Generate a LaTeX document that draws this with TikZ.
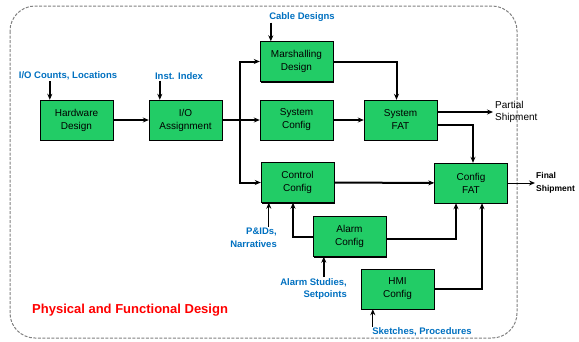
\documentclass[tikz,border=0pt]{standalone}
\usepackage{fontspec}
\setmainfont{Liberation Sans}
\usepackage{xcolor}
\usetikzlibrary{positioning,calc,arrows.meta,shadows}
\definecolor{boxgreen}{RGB}{34,204,102}
\definecolor{labelblue}{RGB}{0,112,192}

\begin{document}
\begin{tikzpicture}[x=1pt,y=-1pt]
\useasboundingbox (0,0) rectangle (579,341);
\draw[gray,line width=1pt,dash pattern=on 3pt off 1.5pt,rounded corners=25pt] (10,6) rectangle (517,338);

\begin{scope}[every node/.style={rectangle,draw=black,fill=boxgreen,
              minimum width=73pt,minimum height=40pt,inner sep=0pt,align=center,
              font=\fontsize{10}{13}\selectfont,
              drop shadow={shadow xshift=0.8pt,shadow yshift=-1.4pt,fill=black,opacity=1}}]
    \node (HW) at (76.5,120) {Hardware\\Design};
    \node (IO) at (185.5,120) {I/O\\Assignment};
    \node (MD) at (296.5,61.5) {Marshalling\\Design};
    \node (SC) at (296.5,120) {System\\Config};
    \node (SF) at (400.5,120) {System\\FAT};
    \node (CC) at (297.5,182.5) {Control\\Config};
    \node (CF) at (471,183) {Config\\FAT};
    \node (AC) at (349.5,236.5) {Alarm\\Config};
    \node (HMI) at (397.5,289) {HMI\\Config};
\end{scope}

\begin{scope}[every node/.style={font=\bfseries\fontsize{9.5}{12.5}\selectfont,
              text=labelblue,inner sep=1pt}]
    \node (IOC) at (68,76) {I/O Counts, Locations};
    \node (II) at (179,76) {Inst. Index};
    \node (CD) at (302,17) {Cable Designs};
    \node[anchor=east,align=right] (PID) at (278,238) {P\&IDs,\\Narratives};
    \node[anchor=east,align=right] (AS) at (348,289) {Alarm Studies,\\Setpoints};
    \node (SP) at (422,332) {Sketches, Procedures};
\end{scope}

\node[anchor=west,align=left,inner sep=2pt,font=\fontsize{10}{12}\selectfont] (PS) at (493,112) {Partial\\Shipment};
\node[anchor=west,align=left,inner sep=1pt,font=\bfseries\fontsize{8.5}{13}\selectfont] (FS) at (535,183) {Final\\Shipment};
\node[anchor=west,inner sep=0pt,text=red,font=\bfseries\fontsize{13}{15}\selectfont] (PF) at (32,310) {Physical and Functional Design};

\coordinate (trunk) at (240,120);
\coordinate (hwin) at ($(HW.north west)+(10,0)$);
\coordinate (ioin) at ($(IO.north west)+(11,0)$);
\coordinate (mdin) at ($(MD.north west)+(11,0)$);
\coordinate (ccin) at ($(CC.south west)+(8,0)$);
\coordinate (acin) at ($(AC.south west)+(11,0)$);
\coordinate (hmin) at ($(HMI.south west)+(12,0)$);

\begin{scope}[>={Stealth[length=6pt,width=5pt]},line width=2pt]
    \draw[->] (HW) -- (IO);
    \draw[->] (IO) -- (SC);
    \draw (trunk) -- (trunk |- MD.west);
    \draw[->] (trunk) |- (MD.west);
    \draw[->] (trunk) |- (CC.west);
    \draw[->] (SC) -- (SF);
    \draw[->] (MD.east) -| ([xshift=-4pt]SF.north);
    \draw[->] (SF.east |- PS.west) -- (PS.west);
    \draw[->] ([yshift=-5pt]SF.east) -| ([xshift=2pt]CF.north);
    \draw[->] (CC) -- (CF);
    \draw[->] (AC.west) -| ([xshift=-4.5pt]CC.south);
    \draw[->] ([yshift=-2.5pt]AC.east) -| ([xshift=-15pt]CF.south);
    \draw[->] (HMI.east) -| ([xshift=11pt]CF.south);
    \draw[->] (hwin |- IOC.south) -- (hwin);
    \draw[->] (ioin |- II.south) -- (ioin);
    \draw[->] (mdin |- CD.south) -- (mdin);
    \draw[->] (acin |- AS.north) -- (acin);
    \draw[->,line width=1pt] (ccin |- PID.north) -- (ccin);
    \draw[->,line width=1pt] (hmin |- SP.north) -- (hmin);
    \draw[->,line width=1pt] (CF) -- (FS);
\end{scope}
\end{tikzpicture}
\end{document}
